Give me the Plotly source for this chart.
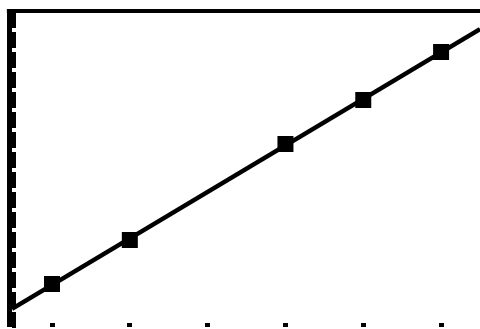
import numpy as np
import plotly.graph_objects as go

x_vals = [1, 2, 4, 5, 6]
y_vals = [1.8, 4.0, 8.8, 11.0, 13.4]

x_range = [0.486, 6.5]
y_range = [-0.35, 15.45]

# least-squares regression line through the data
slope, intercept = np.polyfit(x_vals, y_vals, 1)
line_x = np.array(x_range)
line_y = slope * line_x + intercept

fig = go.Figure()
fig.add_trace(go.Scatter(x=line_x, y=line_y, mode="lines",
                         line=dict(color="black", width=4.5), hoverinfo="skip"))
fig.add_trace(go.Scatter(x=x_vals, y=y_vals, mode="markers",
                         marker=dict(symbol="square", size=16, color="black",
                                     line=dict(width=0))))

fig.update_layout(
    width=480, height=329,
    margin=dict(l=12, r=0, t=11, b=2),
    paper_bgcolor="white", plot_bgcolor="white",
    showlegend=False,
    xaxis=dict(range=x_range, dtick=1, tick0=0, ticks="inside", ticklen=4,
               tickwidth=5, tickcolor="black", showticklabels=False,
               showgrid=False, zeroline=False, showline=False, fixedrange=True),
    yaxis=dict(range=y_range, dtick=1, tick0=0, ticks="inside", ticklen=4,
               tickwidth=16, tickcolor="black", showticklabels=False,
               showgrid=False, zeroline=False, showline=True, linewidth=5,
               linecolor="black", fixedrange=True),
    shapes=[dict(type="line", xref="paper", yref="paper", x0=-0.011, x1=1,
                 y0=1, y1=1, line=dict(color="black", width=4))],
)

fig.write_html(
    "out.html",
    config={"displayModeBar": False},
    post_script="document.body.style.margin='0';document.body.style.overflow='hidden';",
)
